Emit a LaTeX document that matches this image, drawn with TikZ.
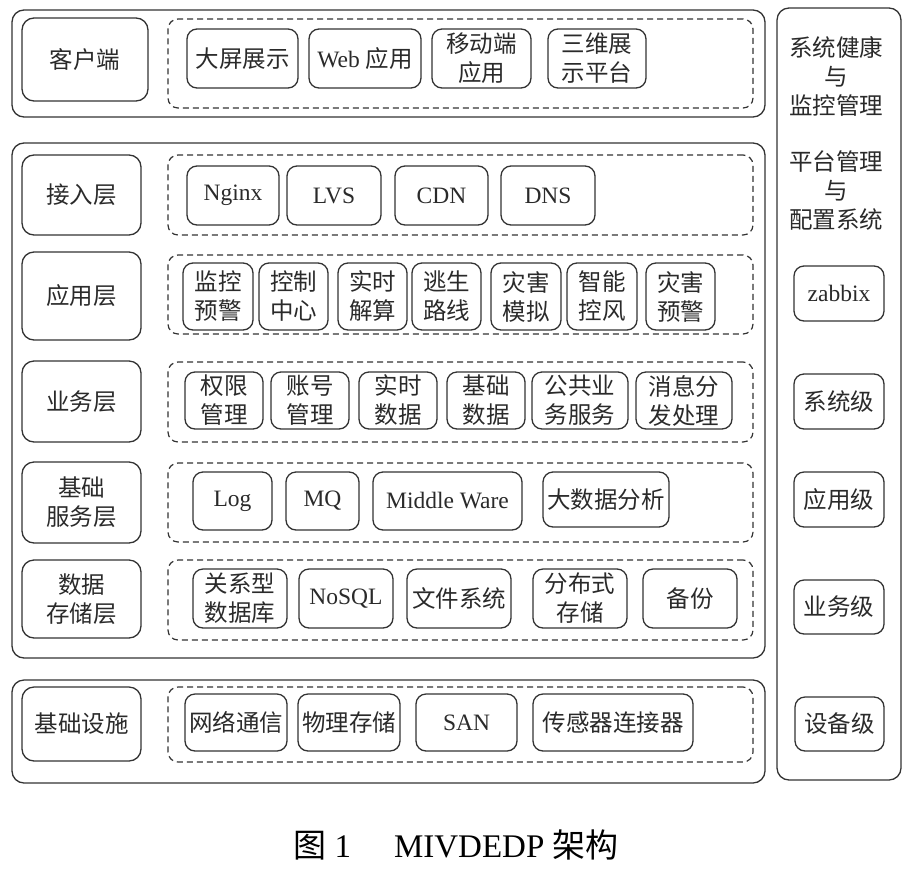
\documentclass[tikz,border=0pt]{standalone}
\usepackage{fontspec}
\setmainfont{Liberation Serif}
\newfontfamily\cjk{Noto Sans CJK SC}
\definecolor{lc}{HTML}{333333}
\definecolor{tc}{HTML}{2A2A2A}
\newcommand{\bx}[7]{\node[#1, inner sep=0pt, outer sep=0pt, minimum width={(#5-#3)*1pt}, minimum height={(#6-#4)*1pt}] (#2) at ({(#3+#5)/2},{(#4+#6)/2}) {#7};}
\tikzset{
  outerbox/.style={draw=lc, line width=1.3pt, rounded corners=12pt},
  dashbox/.style={draw=lc, line width=1.2pt, dash pattern=on 6pt off 4pt, rounded corners=10pt},
  labelbox/.style={draw=lc, line width=1.3pt, rounded corners=12pt, align=center, text=tc, font=\cjk\fontsize{23.5}{29}\selectfont},
  itemzh/.style={draw=lc, line width=1.3pt, rounded corners=10pt, align=center, text=tc, font=\cjk\fontsize{23.5}{29}\selectfont},
  itemen/.style={draw=lc, line width=1.3pt, rounded corners=10pt, align=center, text=tc, font=\fontsize{23.5}{29}\selectfont},
  coltext/.style={align=center, text=tc, font=\cjk\fontsize{23.5}{29}\selectfont, inner sep=0pt},
  captext/.style={text=black, font=\fontsize{33}{36}\selectfont, inner sep=0pt, anchor=base}
}
\begin{document}
\begin{tikzpicture}[x=1pt,y=-1pt]
\useasboundingbox (0,0) rectangle (912,873);
% client layer
\bx{outerbox}{client}{12}{10}{765}{117}{}
\bx{labelbox}{lclient}{22}{18}{148}{101}{客户端}
\bx{dashbox}{dclient}{168}{19}{753}{108}{}
\bx{itemzh}{c1}{187}{29}{298}{88}{大屏展示}
\bx{itemen}{c2}{309}{29}{421}{88}{Web {\cjk 应用}}
\bx{itemzh}{c3}{432}{29}{531}{88}{移动端\\应用}
\bx{itemzh}{c4}{548}{29}{646}{88}{三维展\\示平台}
% main block
\bx{outerbox}{main}{12}{143}{765}{658}{}
% access layer
\bx{labelbox}{lacc}{22}{155}{141}{235}{接入层}
\bx{dashbox}{dacc}{168}{155}{753}{235}{}
\bx{itemen}{a1}{187}{166}{279}{225}{Nginx}
\bx{itemen}{a2}{287}{166}{381}{225}{LVS}
\bx{itemen}{a3}{395}{166}{488}{225}{CDN}
\bx{itemen}{a4}{501}{166}{595}{225}{DNS}
% application layer
\bx{labelbox}{lapp}{22}{252}{141}{340}{应用层}
\bx{dashbox}{dapp}{168}{255}{753}{334}{}
\bx{itemzh}{p1}{183}{263}{253}{330}{监控\\预警}
\bx{itemzh}{p2}{259}{263}{328}{330}{控制\\中心}
\bx{itemzh}{p3}{338}{263}{407}{330}{实时\\解算}
\bx{itemzh}{p4}{412}{263}{481}{330}{逃生\\路线}
\bx{itemzh}{p5}{491}{263}{561}{330}{灾害\\模拟}
\bx{itemzh}{p6}{567}{263}{637}{330}{智能\\控风}
\bx{itemzh}{p7}{646}{263}{715}{330}{灾害\\预警}
% business layer
\bx{labelbox}{lbiz}{22}{361}{141}{442}{业务层}
\bx{dashbox}{dbiz}{168}{362}{753}{442}{}
\bx{itemzh}{b1}{185}{372}{263}{429}{权限\\管理}
\bx{itemzh}{b2}{271}{372}{349}{429}{账号\\管理}
\bx{itemzh}{b3}{359}{372}{437}{429}{实时\\数据}
\bx{itemzh}{b4}{447}{372}{525}{429}{基础\\数据}
\bx{itemzh}{b5}{532}{372}{628}{429}{公共业\\务服务}
\bx{itemzh}{b6}{636}{372}{732}{429}{消息分\\发处理}
% base service layer
\bx{labelbox}{lsvc}{22}{462}{141}{543}{基础\\服务层}
\bx{dashbox}{dsvc}{168}{463}{753}{542}{}
\bx{itemen}{s1}{193}{472}{272}{530}{Log}
\bx{itemen}{s2}{286}{472}{359}{530}{MQ}
\bx{itemen}{s3}{373}{472}{522}{530}{Middle Ware}
\bx{itemzh}{s4}{543}{472}{669}{527}{大数据分析}
% storage layer
\bx{labelbox}{lsto}{22}{560}{141}{638}{数据\\存储层}
\bx{dashbox}{dsto}{168}{560}{753}{640}{}
\bx{itemzh}{t1}{193}{569}{287}{628}{关系型\\数据库}
\bx{itemen}{t2}{299}{569}{393}{628}{NoSQL}
\bx{itemzh}{t3}{407}{569}{511}{628}{文件系统}
\bx{itemzh}{t4}{533}{569}{627}{628}{分布式\\存储}
\bx{itemzh}{t5}{643}{569}{737}{628}{备份}
% infrastructure
\bx{outerbox}{infra}{12}{680}{765}{783}{}
\bx{labelbox}{linf}{22}{687}{141}{761}{基础设施}
\bx{dashbox}{dinf}{168}{687}{753}{762}{}
\bx{itemzh}{i1}{185}{694}{287}{751}{网络通信}
\bx{itemzh}{i2}{298}{694}{400}{751}{物理存储}
\bx{itemen}{i3}{416}{694}{517}{751}{SAN}
\bx{itemzh}{i4}{533}{694}{693}{751}{传感器连接器}
% right column
\bx{outerbox}{rcol}{777}{8}{901}{780}{}
\node[coltext] (r1) at (836,76) {系统健康\\与\\监控管理};
\node[coltext] (r2) at (836,190) {平台管理\\与\\配置系统};
\bx{itemen}{z1}{794}{266}{884}{321}{zabbix}
\bx{itemzh}{z2}{794}{374}{884}{429}{系统级}
\bx{itemzh}{z3}{794}{472}{884}{527}{应用级}
\bx{itemzh}{z4}{794}{580}{884}{634}{业务级}
\bx{itemzh}{z5}{795}{697}{884}{751}{设备级}
% caption
\node[captext] (cap) at (456,857) {{\cjk 图} 1\hspace{1.3em}MIVDEDP {\cjk 架构}};
\end{tikzpicture}
\end{document}
